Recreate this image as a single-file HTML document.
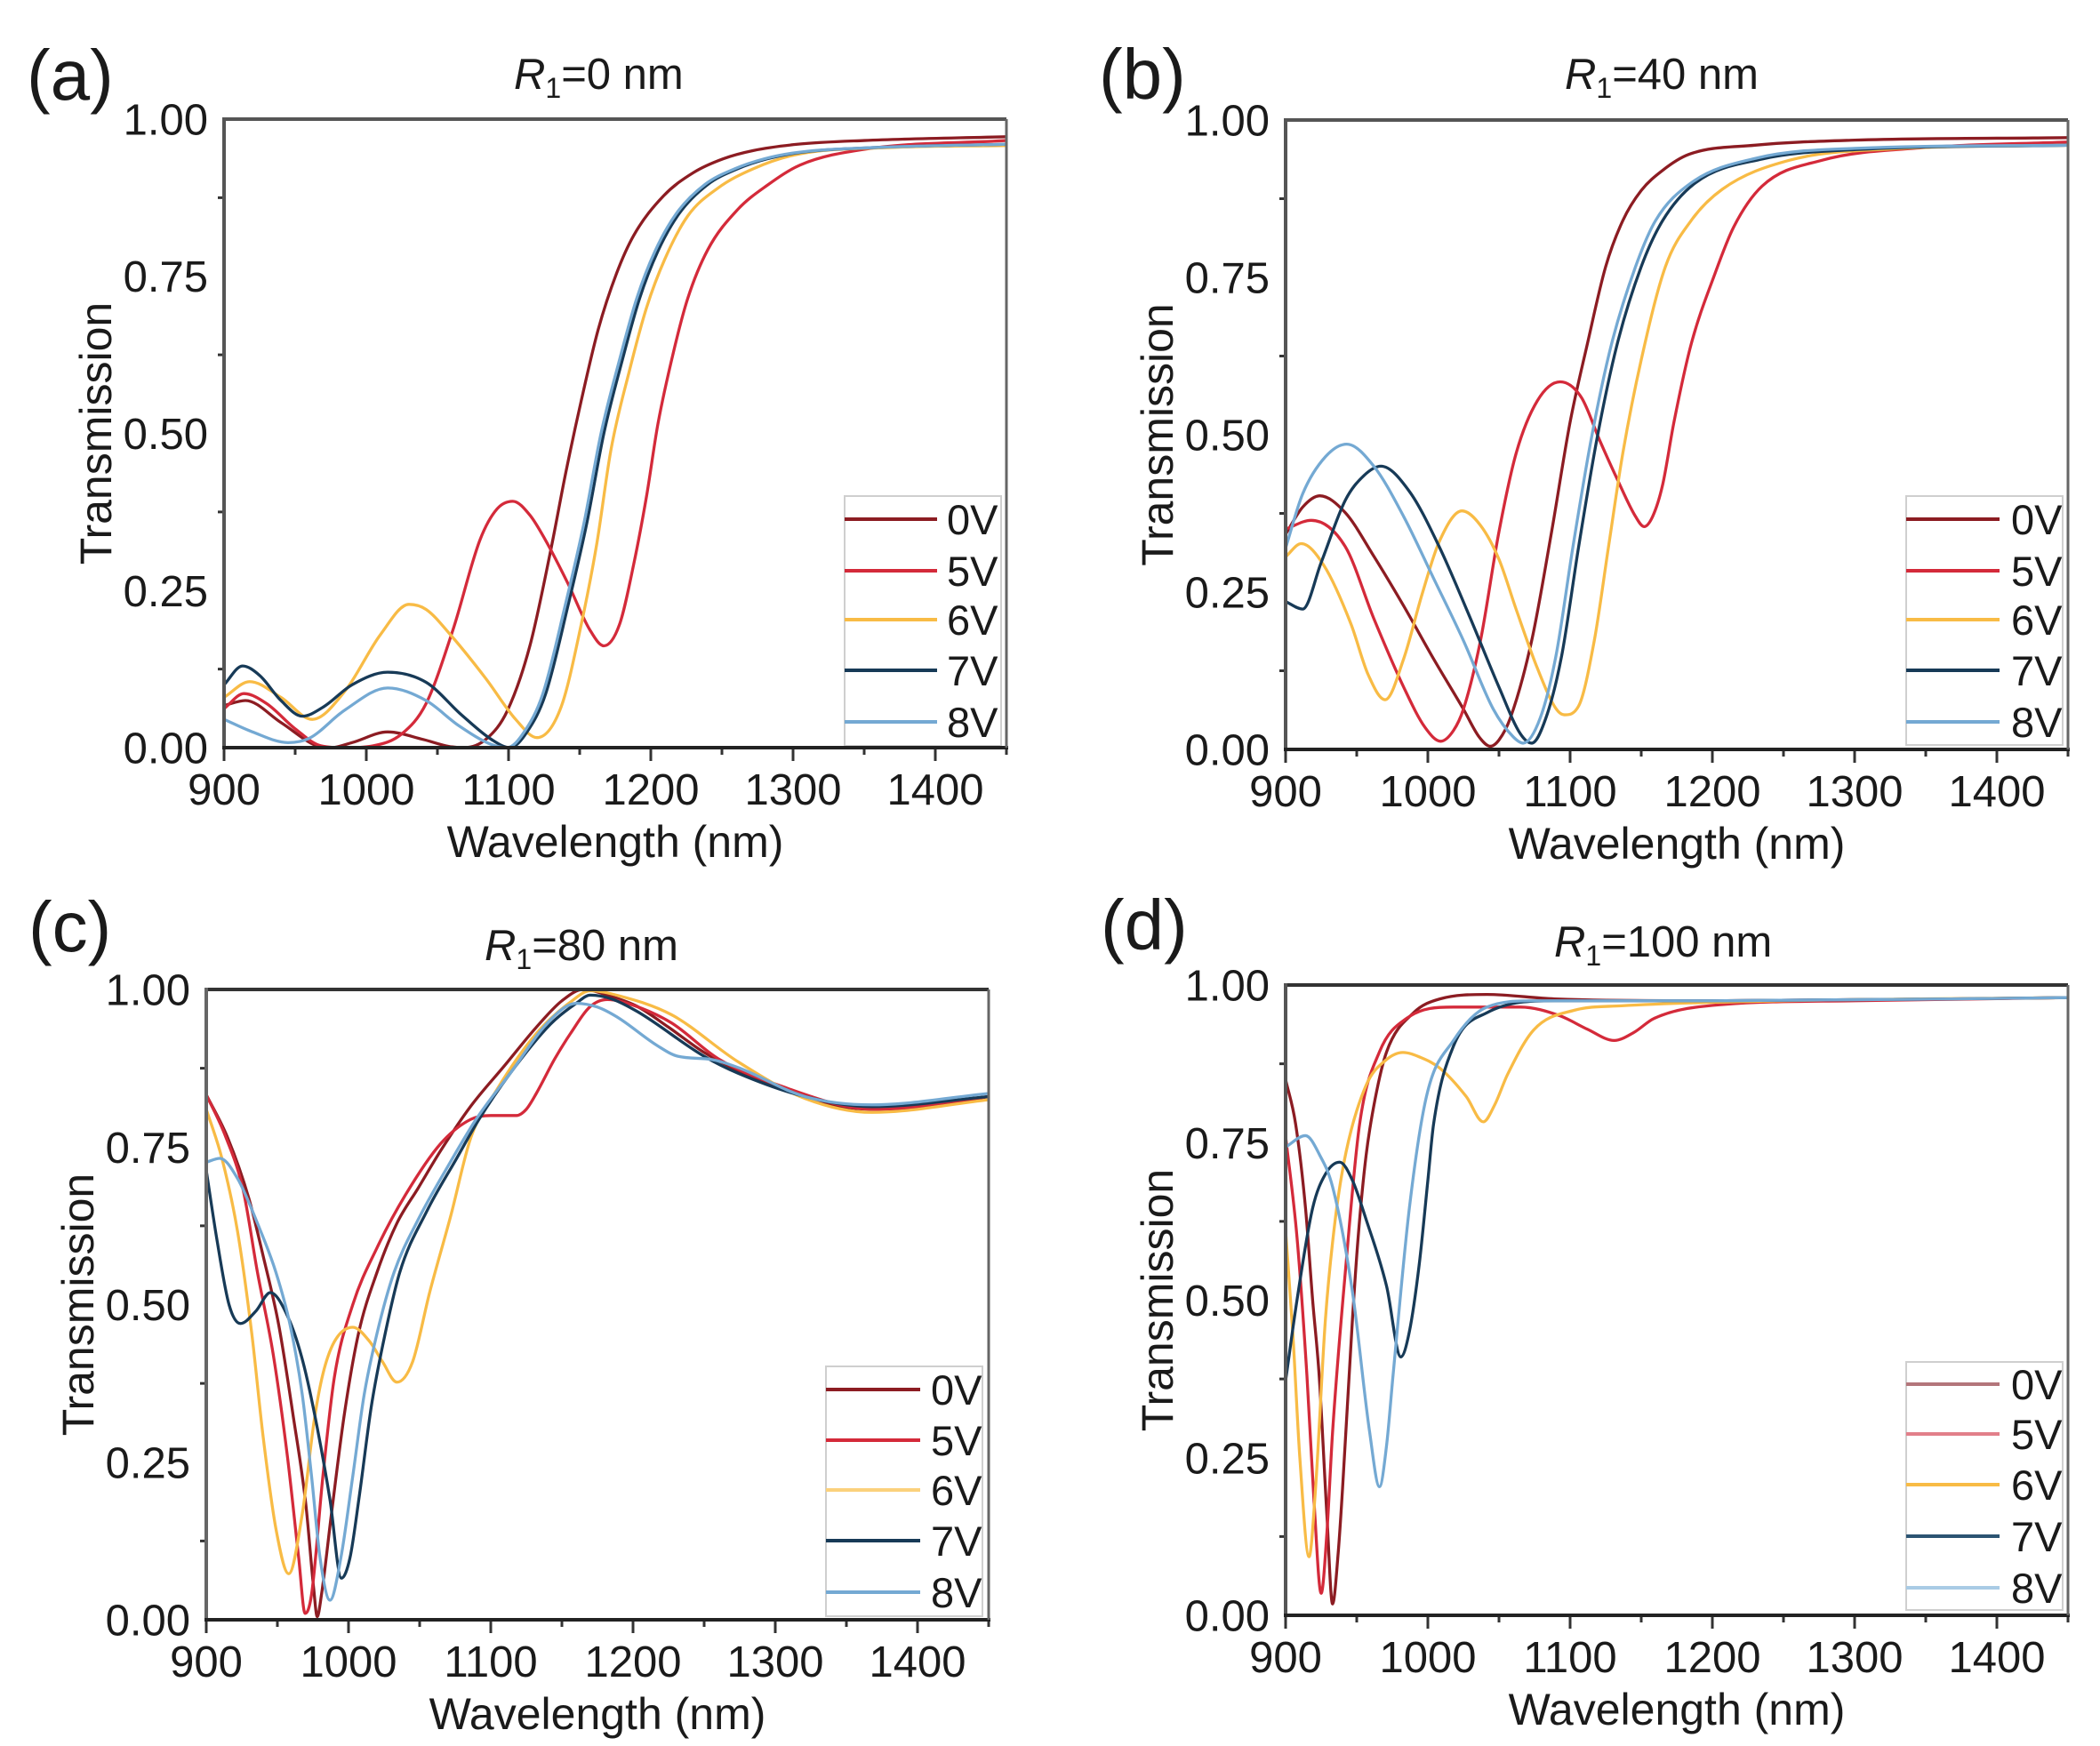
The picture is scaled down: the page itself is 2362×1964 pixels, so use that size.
<!DOCTYPE html>
<html><head><meta charset="utf-8"><style>
html,body{margin:0;padding:0;background:#fff;}
svg{display:block;}
text{font-family:"Liberation Sans",Arial,sans-serif;fill:#1a1a1a;}
</style></head><body>
<svg id="s" xmlns="http://www.w3.org/2000/svg" width="2362" height="1964" viewBox="0 0 2362 1964">
<rect width="2362" height="1964" fill="#fff"/>
<defs>
<clipPath id="ca"><rect x="252" y="130" width="880" height="713"/></clipPath>
<clipPath id="cb"><rect x="1446" y="131" width="880" height="714"/></clipPath>
<clipPath id="cc"><rect x="232" y="1109" width="880" height="715"/></clipPath>
<clipPath id="cd"><rect x="1446" y="1104" width="880" height="715"/></clipPath>
</defs>
<g id="curves"></g>

<!-- Panel a static -->
<g>
<text x="30" y="112" font-size="80">(a)</text>
<text x="578" y="100" font-size="49"><tspan font-style="italic">R</tspan><tspan font-size="32" dy="10">1</tspan><tspan dy="-10">=0 nm</tspan></text>
<g font-size="49" text-anchor="end">
<text x="234" y="151.5">1.00</text><text x="234" y="328">0.75</text><text x="234" y="505">0.50</text><text x="234" y="682">0.25</text><text x="234" y="858.5">0.00</text>
</g>
<g font-size="49" text-anchor="middle">
<text x="252" y="905">900</text><text x="412" y="905">1000</text><text x="572" y="905">1100</text><text x="732" y="905">1200</text><text x="892" y="905">1300</text><text x="1052" y="905">1400</text>
</g>
<text x="692" y="964" font-size="50" text-anchor="middle">Wavelength (nm)</text>
<text transform="translate(125,487.5) rotate(-90)" font-size="50" text-anchor="middle">Transmission</text>
</g>

<!-- Panel b static -->
<g>
<text x="1236" y="111" font-size="80">(b)</text>
<text x="1760" y="100" font-size="49"><tspan font-style="italic">R</tspan><tspan font-size="32" dy="10">1</tspan><tspan dy="-10">=40 nm</tspan></text>
<g font-size="49" text-anchor="end">
<text x="1428" y="152.5">1.00</text><text x="1428" y="329.5">0.75</text><text x="1428" y="506.5">0.50</text><text x="1428" y="683.5">0.25</text><text x="1428" y="860.5">0.00</text>
</g>
<g font-size="49" text-anchor="middle">
<text x="1446" y="907">900</text><text x="1606" y="907">1000</text><text x="1766" y="907">1100</text><text x="1926" y="907">1200</text><text x="2086" y="907">1300</text><text x="2246" y="907">1400</text>
</g>
<text x="1886" y="966" font-size="50" text-anchor="middle">Wavelength (nm)</text>
<text transform="translate(1319,489) rotate(-90)" font-size="50" text-anchor="middle">Transmission</text>
</g>

<!-- Panel c static -->
<g>
<text x="32" y="1070" font-size="80">(c)</text>
<text x="545" y="1080" font-size="49"><tspan font-style="italic">R</tspan><tspan font-size="32" dy="10">1</tspan><tspan dy="-10">=80 nm</tspan></text>
<g font-size="49" text-anchor="end">
<text x="214" y="1130.5">1.00</text><text x="214" y="1307.75">0.75</text><text x="214" y="1485">0.50</text><text x="214" y="1662.25">0.25</text><text x="214" y="1839.5">0.00</text>
</g>
<g font-size="49" text-anchor="middle">
<text x="232" y="1886">900</text><text x="392" y="1886">1000</text><text x="552" y="1886">1100</text><text x="712" y="1886">1200</text><text x="872" y="1886">1300</text><text x="1032" y="1886">1400</text>
</g>
<text x="672" y="1945" font-size="50" text-anchor="middle">Wavelength (nm)</text>
<text transform="translate(105,1467.5) rotate(-90)" font-size="50" text-anchor="middle">Transmission</text>
</g>

<!-- Panel d static -->
<g>
<text x="1238" y="1068" font-size="80">(d)</text>
<text x="1748" y="1076" font-size="49"><tspan font-style="italic">R</tspan><tspan font-size="32" dy="10">1</tspan><tspan dy="-10">=100 nm</tspan></text>
<g font-size="49" text-anchor="end">
<text x="1428" y="1125.5">1.00</text><text x="1428" y="1302.75">0.75</text><text x="1428" y="1480">0.50</text><text x="1428" y="1657.25">0.25</text><text x="1428" y="1834.5">0.00</text>
</g>
<g font-size="49" text-anchor="middle">
<text x="1446" y="1881">900</text><text x="1606" y="1881">1000</text><text x="1766" y="1881">1100</text><text x="1926" y="1881">1200</text><text x="2086" y="1881">1300</text><text x="2246" y="1881">1400</text>
</g>
<text x="1886" y="1940" font-size="50" text-anchor="middle">Wavelength (nm)</text>
<text transform="translate(1319,1462.5) rotate(-90)" font-size="50" text-anchor="middle">Transmission</text>
</g>

<!-- ticks -->
<g stroke="#333" stroke-width="3" fill="none">
<path d="M252 841v15M412 841v15M572 841v15M732 841v15M892 841v15M1052 841v15M332 841v8M492 841v8M652 841v8M812 841v8M972 841v8M1132 841v8M252 752.6h-7M252 575.9h-7M252 399.1h-7M252 222.4h-7"/>
<path d="M1446 843v15M1606 843v15M1766 843v15M1926 843v15M2086 843v15M2246 843v15M1526 843v8M1686 843v8M1846 843v8M2006 843v8M2166 843v8M2326 843v8M1446 754.5h-7M1446 577.5h-7M1446 400.5h-7M1446 223.5h-7"/>
<path d="M232 1822v15M392 1822v15M552 1822v15M712 1822v15M872 1822v15M1032 1822v15M312 1822v8M472 1822v8M632 1822v8M792 1822v8M952 1822v8M1112 1822v8M232 1733.4h-7M232 1556.1h-7M232 1378.9h-7M232 1201.6h-7"/>
<path d="M1446 1817v15M1606 1817v15M1766 1817v15M1926 1817v15M2086 1817v15M2246 1817v15M1526 1817v8M1686 1817v8M1846 1817v8M2006 1817v8M2166 1817v8M2326 1817v8M1446 1728.4h-7M1446 1551.1h-7M1446 1373.9h-7M1446 1196.6h-7"/>
</g>

<!-- legends -->
<g id="legends" font-size="47">
<rect x="950" y="558" width="176" height="281" fill="#fff" stroke="#cfcfcf" stroke-width="2"/>
<g stroke-width="4">
<line x1="950" y1="584" x2="1054" y2="584" stroke="#8c1c22"/>
<line x1="950" y1="642" x2="1054" y2="642" stroke="#d42a3a"/>
<line x1="950" y1="697" x2="1054" y2="697" stroke="#f8bb45"/>
<line x1="950" y1="754" x2="1054" y2="754" stroke="#173a57"/>
<line x1="950" y1="812" x2="1054" y2="812" stroke="#74a9d3"/>
</g>
<text x="1065" y="601">0V</text><text x="1065" y="659">5V</text><text x="1065" y="714">6V</text><text x="1065" y="771">7V</text><text x="1065" y="829">8V</text>

<rect x="2144" y="558" width="176" height="280" fill="#fff" stroke="#cfcfcf" stroke-width="2"/>
<g stroke-width="4">
<line x1="2144" y1="584" x2="2249" y2="584" stroke="#8c1c22"/>
<line x1="2144" y1="642" x2="2249" y2="642" stroke="#d42a3a"/>
<line x1="2144" y1="697" x2="2249" y2="697" stroke="#f8bb45"/>
<line x1="2144" y1="754" x2="2249" y2="754" stroke="#173a57"/>
<line x1="2144" y1="812" x2="2249" y2="812" stroke="#74a9d3"/>
</g>
<text x="2262" y="601">0V</text><text x="2262" y="659">5V</text><text x="2262" y="714">6V</text><text x="2262" y="771">7V</text><text x="2262" y="829">8V</text>

<rect x="929" y="1537" width="176" height="281" fill="#fff" stroke="#cfcfcf" stroke-width="2"/>
<g stroke-width="4">
<line x1="929" y1="1563" x2="1035" y2="1563" stroke="#8c1c22"/>
<line x1="929" y1="1620" x2="1035" y2="1620" stroke="#d42a3a"/>
<line x1="929" y1="1676" x2="1035" y2="1676" stroke="#fbd17c"/>
<line x1="929" y1="1733" x2="1035" y2="1733" stroke="#173a57"/>
<line x1="929" y1="1791" x2="1035" y2="1791" stroke="#74a9d3"/>
</g>
<text x="1047" y="1580">0V</text><text x="1047" y="1637">5V</text><text x="1047" y="1693">6V</text><text x="1047" y="1750">7V</text><text x="1047" y="1808">8V</text>

<rect x="2144" y="1532" width="176" height="279" fill="#fff" stroke="#cfcfcf" stroke-width="2"/>
<g stroke-width="4">
<line x1="2144" y1="1557" x2="2249" y2="1557" stroke="#b3767b"/>
<line x1="2144" y1="1613" x2="2249" y2="1613" stroke="#e27f8a"/>
<line x1="2144" y1="1670" x2="2249" y2="1670" stroke="#f8bb45"/>
<line x1="2144" y1="1728" x2="2249" y2="1728" stroke="#2c5472"/>
<line x1="2144" y1="1786" x2="2249" y2="1786" stroke="#a9cbe5"/>
</g>
<text x="2262" y="1574">0V</text><text x="2262" y="1630">5V</text><text x="2262" y="1687">6V</text><text x="2262" y="1745">7V</text><text x="2262" y="1803">8V</text>
</g>

<!-- frames -->
<g fill="none">
<path d="M252 134H1132" stroke="#555" stroke-width="4"/><path d="M252 132V843" stroke="#555" stroke-width="4"/><path d="M250 841H1134" stroke="#222" stroke-width="4"/><path d="M1132 134V841" stroke="#666" stroke-width="3"/>
<path d="M1446 135H2326" stroke="#555" stroke-width="4"/><path d="M1446 133V845" stroke="#555" stroke-width="4"/><path d="M1444 843H2328" stroke="#222" stroke-width="4"/><path d="M2326 135V843" stroke="#666" stroke-width="3"/>
<path d="M232 1113H1112" stroke="#333" stroke-width="4"/><path d="M232 1111V1824" stroke="#666" stroke-width="4"/><path d="M230 1822H1114" stroke="#222" stroke-width="4"/><path d="M1112 1113V1822" stroke="#666" stroke-width="3"/>
<path d="M1446 1108H2326" stroke="#333" stroke-width="4"/><path d="M1446 1106V1819" stroke="#555" stroke-width="4"/><path d="M1444 1817H2328" stroke="#222" stroke-width="4"/><path d="M2326 1108V1817" stroke="#666" stroke-width="3"/>
</g>
</svg>
<script>
(function(){
var COL=["#8c1c22","#d42a3a","#f8bb45","#173a57","#74a9d3"];
var P={
a:{x0:252,x1:1132,yt:134,yb:841,clip:"ca"},
b:{x0:1446,x1:2326,yt:135,yb:843,clip:"cb"},
c:{x0:232,x1:1112,yt:1113,yb:1822,clip:"cc"},
d:{x0:1446,x1:2326,yt:1108,yb:1817,clip:"cd"}
};
var D={
a:[
[[900,0.067],[915,0.075],[940,0.04],[965,0.003],[975,0.0],[990,0.008],[1015,0.025],[1040,0.013],[1058,0.002],[1069,0.0],[1085,0.015],[1099,0.058],[1115,0.162],[1130,0.318],[1140,0.435],[1151,0.551],[1163,0.665],[1176,0.755],[1188,0.815],[1209,0.878],[1230,0.915],[1251,0.937],[1272,0.95],[1303,0.96],[1350,0.966],[1450,0.972]],
[[900,0.062],[914,0.086],[930,0.07],[950,0.03],[968,0.003],[985,0.0],[1005,0.003],[1025,0.022],[1042,0.07],[1061,0.188],[1080,0.331],[1092,0.38],[1103,0.392],[1115,0.37],[1126,0.33],[1142,0.26],[1157,0.188],[1167,0.162],[1178,0.196],[1188,0.292],[1197,0.40],[1205,0.515],[1216,0.63],[1226,0.715],[1240,0.792],[1261,0.856],[1282,0.895],[1305,0.927],[1350,0.952],[1450,0.966]],
[[900,0.08],[918,0.105],[940,0.08],[962,0.045],[985,0.09],[1010,0.18],[1030,0.228],[1042,0.22],[1059,0.18],[1084,0.11],[1105,0.045],[1120,0.016],[1137,0.065],[1151,0.195],[1162,0.324],[1172,0.474],[1185,0.60],[1197,0.70],[1210,0.778],[1226,0.846],[1247,0.89],[1272,0.921],[1303,0.944],[1370,0.955],[1450,0.958]],
[[900,0.10],[913,0.13],[925,0.115],[940,0.075],[955,0.05],[970,0.065],[990,0.1],[1015,0.12],[1042,0.104],[1067,0.052],[1088,0.013],[1101,0.0],[1113,0.025],[1126,0.085],[1142,0.228],[1155,0.357],[1167,0.50],[1180,0.617],[1192,0.714],[1205,0.79],[1220,0.85],[1240,0.896],[1261,0.921],[1282,0.937],[1305,0.947],[1360,0.955],[1450,0.96]],
[[900,0.045],[920,0.025],[945,0.008],[960,0.015],[985,0.06],[1015,0.095],[1042,0.075],[1065,0.035],[1088,0.005],[1099,0.0],[1111,0.025],[1124,0.085],[1140,0.228],[1153,0.357],[1165,0.50],[1178,0.617],[1190,0.714],[1203,0.79],[1218,0.85],[1238,0.896],[1259,0.921],[1280,0.937],[1303,0.947],[1360,0.955],[1450,0.96]]
],
b:[
[[900,0.342],[912,0.385],[924,0.403],[942,0.376],[962,0.307],[983,0.228],[1004,0.144],[1025,0.064],[1036,0.02],[1044,0.005],[1050,0.015],[1058,0.05],[1073,0.173],[1087,0.346],[1100,0.52],[1112,0.643],[1125,0.767],[1137,0.84],[1150,0.888],[1165,0.92],[1183,0.945],[1230,0.96],[1300,0.968],[1450,0.972]],
[[900,0.35],[918,0.364],[942,0.322],[962,0.208],[983,0.099],[998,0.035],[1009,0.013],[1018,0.03],[1025,0.064],[1037,0.173],[1050,0.346],[1062,0.47],[1077,0.554],[1093,0.584],[1108,0.559],[1121,0.49],[1133,0.43],[1146,0.37],[1152,0.354],[1158,0.37],[1165,0.42],[1173,0.52],[1185,0.643],[1202,0.757],[1215,0.83],[1235,0.895],[1277,0.936],[1348,0.956],[1450,0.965]],
[[900,0.306],[911,0.327],[927,0.292],[946,0.199],[958,0.119],[970,0.079],[983,0.144],[996,0.247],[1008,0.33],[1024,0.379],[1037,0.356],[1050,0.302],[1062,0.223],[1077,0.129],[1090,0.065],[1096,0.055],[1106,0.069],[1117,0.173],[1127,0.322],[1137,0.47],[1150,0.619],[1167,0.767],[1185,0.84],[1207,0.89],[1254,0.936],[1325,0.954],[1450,0.96]],
[[900,0.235],[912,0.223],[925,0.297],[942,0.396],[955,0.435],[967,0.45],[987,0.41],[1008,0.322],[1029,0.213],[1050,0.099],[1065,0.025],[1073,0.01],[1083,0.05],[1094,0.148],[1106,0.322],[1119,0.495],[1133,0.643],[1150,0.767],[1165,0.84],[1188,0.9],[1235,0.938],[1301,0.953],[1450,0.96]],
[[900,0.32],[912,0.406],[928,0.465],[943,0.485],[962,0.45],[983,0.37],[1004,0.272],[1025,0.173],[1046,0.064],[1060,0.02],[1067,0.01],[1079,0.05],[1090,0.148],[1102,0.322],[1115,0.495],[1129,0.643],[1146,0.767],[1160,0.84],[1185,0.9],[1232,0.94],[1300,0.955],[1450,0.96]]
],
c:[
[[900,0.833],[915,0.765],[930,0.668],[940,0.577],[951,0.467],[961,0.325],[970,0.183],[975.5,0.05],[978,0.005],[981,0.04],[988,0.168],[997,0.325],[1007,0.454],[1020,0.551],[1034,0.629],[1049,0.685],[1065,0.745],[1086,0.815],[1110,0.88],[1132,0.94],[1150,0.982],[1165,1.0],[1183,0.99],[1203,0.973],[1225,0.94],[1250,0.90],[1275,0.87],[1297,0.85],[1345,0.815],[1368,0.81],[1410,0.815],[1450,0.83]],
[[900,0.833],[913,0.77],[926,0.681],[936,0.551],[947,0.422],[957,0.26],[965,0.098],[969.5,0.01],[974,0.04],[982,0.228],[990,0.384],[1003,0.5],[1020,0.59],[1040,0.674],[1065,0.756],[1086,0.794],[1100,0.80],[1118,0.80],[1125,0.81],[1132,0.835],[1145,0.89],[1156,0.93],[1170,0.973],[1182,0.984],[1200,0.975],[1227,0.947],[1260,0.89],[1300,0.85],[1370,0.81],[1450,0.83]],
[[900,0.81],[911,0.732],[922,0.616],[932,0.454],[940,0.29],[949,0.144],[958,0.073],[967.5,0.168],[976,0.318],[982,0.39],[990,0.441],[1003,0.464],[1015,0.441],[1024,0.409],[1034,0.377],[1045,0.409],[1057,0.519],[1072,0.642],[1086,0.765],[1104,0.84],[1132,0.93],[1156,0.98],[1170,0.998],[1190,0.99],[1227,0.96],[1274,0.885],[1321,0.827],[1368,0.805],[1450,0.825]],
[[900,0.713],[907.5,0.603],[916,0.5],[924,0.47],[935,0.49],[945,0.519],[957.5,0.48],[968,0.409],[978,0.305],[987,0.19],[995,0.066],[1001,0.098],[1007.5,0.195],[1016,0.338],[1024,0.435],[1036,0.551],[1055,0.648],[1076,0.732],[1092,0.795],[1113,0.865],[1142,0.945],[1160,0.978],[1170,0.991],[1185,0.985],[1203,0.965],[1250,0.894],[1274,0.867],[1321,0.83],[1368,0.814],[1450,0.83]],
[[900,0.726],[909.6,0.732],[922,0.70],[936,0.629],[949,0.551],[959,0.467],[967.5,0.357],[974,0.228],[980,0.098],[987,0.031],[994.6,0.098],[1003,0.228],[1011,0.357],[1020,0.454],[1032,0.551],[1049,0.635],[1070,0.72],[1090,0.795],[1113,0.865],[1142,0.952],[1160,0.978],[1175,0.972],[1189,0.956],[1217,0.911],[1231.5,0.894],[1255,0.889],[1274,0.876],[1321,0.83],[1368,0.817],[1450,0.835]]
],
d:[
[[900,0.85],[907,0.78],[914,0.646],[919,0.5],[923.6,0.38],[929,0.16],[933,0.018],[937,0.1],[940,0.20],[947,0.47],[951,0.6],[956.6,0.73],[963,0.82],[971,0.894],[990,0.956],[1008.5,0.978],[1041.5,0.985],[1089,0.978],[1200,0.975],[1450,0.98]],
[[900,0.76],[908,0.6],[915,0.38],[920,0.18],[925,0.035],[929,0.13],[933,0.29],[942.5,0.558],[952,0.779],[966,0.894],[985,0.947],[1018,0.965],[1065,0.965],[1093,0.951],[1112,0.93],[1131,0.912],[1145,0.925],[1159,0.947],[1207,0.969],[1300,0.975],[1450,0.98]],
[[900,0.61],[905,0.45],[910,0.25],[916.5,0.093],[921,0.2],[928,0.47],[935,0.63],[942.5,0.735],[956.6,0.841],[970,0.88],[982.5,0.893],[995,0.885],[1008.5,0.868],[1027,0.823],[1039,0.783],[1047,0.81],[1056,0.858],[1074.5,0.929],[1103,0.96],[1136,0.967],[1250,0.975],[1450,0.98]],
[[900,0.372],[908,0.5],[919,0.646],[928,0.7],[938,0.719],[947,0.69],[956.6,0.628],[971,0.522],[981,0.41],[987,0.45],[994,0.558],[1000,0.69],[1004,0.779],[1018,0.903],[1041.5,0.956],[1089,0.975],[1200,0.975],[1450,0.98]],
[[900,0.743],[914,0.761],[924,0.73],[933,0.68],[947,0.513],[959,0.292],[966,0.204],[971,0.27],[975.5,0.38],[987,0.646],[999,0.823],[1018,0.912],[1041.5,0.965],[1074.5,0.975],[1200,0.975],[1450,0.98]]
]
};
function pathFor(pts,p){
  var n=pts.length,x=[],y=[],d=[],m=[],i;
  for(i=0;i<n;i++){x.push(pts[i][0]);y.push(pts[i][1]);}
  for(i=0;i<n-1;i++)d.push((y[i+1]-y[i])/(x[i+1]-x[i]));
  m[0]=d[0];m[n-1]=d[n-2];
  for(i=1;i<n-1;i++){m[i]=(d[i-1]*d[i]<=0)?0:(d[i-1]+d[i])/2;}
  for(i=0;i<n-1;i++){
    if(d[i]===0){m[i]=0;m[i+1]=0;continue;}
    var a=m[i]/d[i],b=m[i+1]/d[i],s=a*a+b*b;
    if(s>9){var t=3/Math.sqrt(s);m[i]=t*a*d[i];m[i+1]=t*b*d[i];}
  }
  var sx=(p.x1-p.x0)/550,sy=(p.yb-p.yt);
  function X(v){return (p.x0+(v-900)*sx).toFixed(2);}
  function Y(v){return (p.yb-v*sy).toFixed(2);}
  var s="M"+X(x[0])+" "+Y(y[0]);
  for(i=0;i<n-1;i++){
    var h=x[i+1]-x[i];
    s+="C"+X(x[i]+h/3)+" "+Y(y[i]+m[i]*h/3)+" "+X(x[i+1]-h/3)+" "+Y(y[i+1]-m[i+1]*h/3)+" "+X(x[i+1])+" "+Y(y[i+1]);
  }
  return s;
}
var NS="http://www.w3.org/2000/svg";
var g=document.getElementById("curves");
["a","b","c","d"].forEach(function(k){
  var p=P[k];
  var gg=document.createElementNS(NS,"g");
  gg.setAttribute("clip-path","url(#"+p.clip+")");
  D[k].forEach(function(pts,j){
    var e=document.createElementNS(NS,"path");
    e.setAttribute("d",pathFor(pts,p));
    e.setAttribute("fill","none");
    e.setAttribute("stroke",COL[j]);
    e.setAttribute("stroke-width","3.3");
    e.setAttribute("stroke-linejoin","round");
    gg.appendChild(e);
  });
  g.appendChild(gg);
});
})();
</script>
</body></html>
